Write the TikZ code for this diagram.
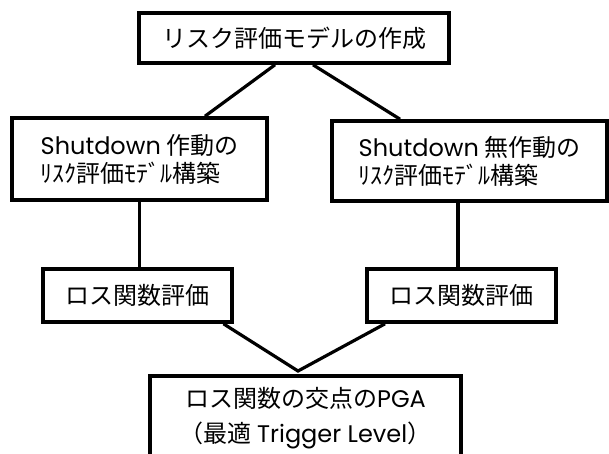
\documentclass[tikz,border=0pt]{standalone}
\usepackage{fontspec}
\setmainfont{Noto Sans CJK JP}
\newfontfamily\lat{Poppins}
\begin{document}
\begin{tikzpicture}[x=1pt,y=-1pt,
  box/.style={draw=black, line width=3.6pt, fill=white, inner sep=0pt, font=\fontsize{24pt}{28pt}\selectfont},
  conn/.style={draw=black, line width=3.2pt, line join=miter}]
\useasboundingbox (0,0) rectangle (609,453);
\clip (0,0) rectangle (609,453);
\fill[white] (0,0) rectangle (609,453);
% nodes
\node[box, minimum width=310pt, minimum height=50pt] (top) at (294,38) {リスク評価モデルの作成};
\node[box, minimum width=255pt, minimum height=82pt, align=left] (left) at (139.5,159) {{\lat Shutdown} 作動の\\ﾘｽｸ評価ﾓﾃﾞﾙ構築};
\node[box, minimum width=275pt, minimum height=80pt, align=left] (right) at (469.5,161) {{\lat Shutdown} 無作動の\\ﾘｽｸ評価ﾓﾃﾞﾙ構築};
\node[box, minimum width=189pt, minimum height=53pt] (sl) at (137.5,295.5) {ロス関数評価};
\node[box, minimum width=189pt, minimum height=53pt] (sr) at (461.5,295.5) {ロス関数評価};
\node[box, minimum width=311pt, minimum height=84pt, align=center, font=\fontsize{24pt}{35pt}\selectfont] (bot) at (305.5,418) {ロス関数の交点の{\lat PGA}\\（最適 {\lat Trigger Level}）};
\coordinate (apex) at (298,371);
% connectors
\draw[conn] ([xshift=-19pt]top.south) -- ([xshift=65.5pt]left.north);
\draw[conn] ([xshift=19pt]top.south) -- ([xshift=-69.5pt]right.north);
\draw[conn] (left.south) -- (left.south |- sl.north);
\draw[conn] ([xshift=-11.5pt]right.south) -- ([xshift=-11.5pt]right.south |- sr.north);
\draw[conn] ([xshift=86pt]sl.south) -- (apex) -- ([xshift=-76.5pt]sr.south);
\end{tikzpicture}
\end{document}
